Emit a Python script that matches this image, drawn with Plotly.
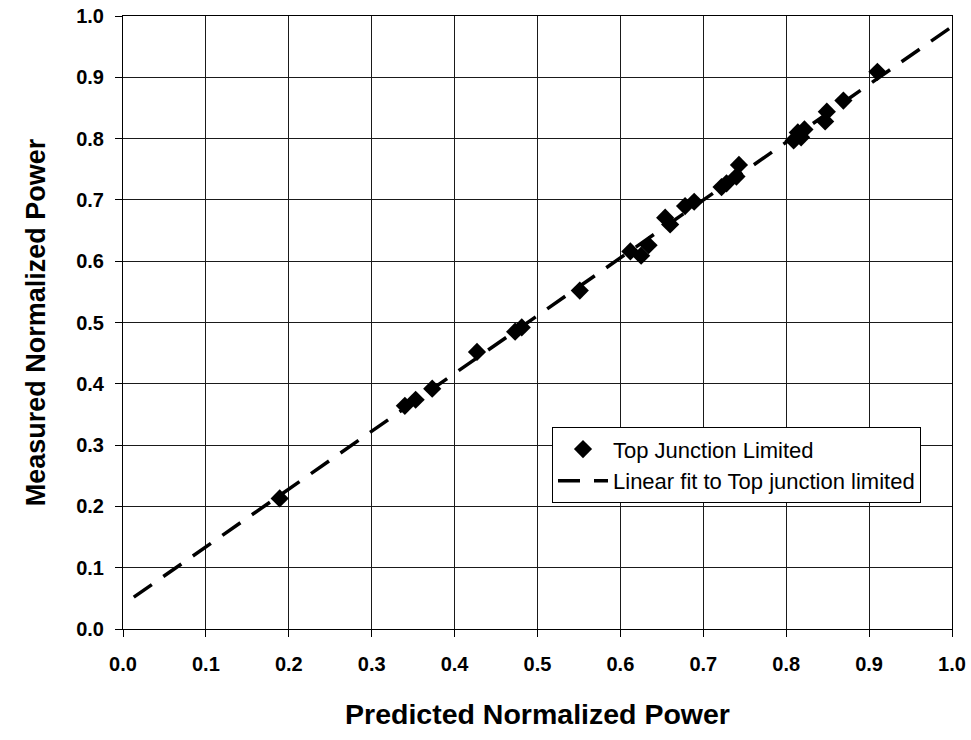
import plotly.graph_objects as go

# Predicted vs measured normalized power (top-junction-limited cells)
predicted = [0.189, 0.340, 0.353, 0.373, 0.427, 0.473, 0.481, 0.551, 0.612,
             0.625, 0.634, 0.654, 0.660, 0.678, 0.689, 0.722, 0.728, 0.740,
             0.743, 0.809, 0.814, 0.818, 0.822, 0.847, 0.849, 0.869, 0.910]
measured = [0.213, 0.364, 0.374, 0.392, 0.452, 0.485, 0.492, 0.552, 0.616,
            0.609, 0.626, 0.671, 0.660, 0.690, 0.697, 0.721, 0.727, 0.738,
            0.757, 0.797, 0.810, 0.802, 0.815, 0.828, 0.844, 0.862, 0.909]

# Linear fit parameters and the span over which the fit line is drawn
fit_slope = 0.943
fit_intercept = 0.0397
fit_span = [0.013, 1.0]

tick_vals = [0.0, 0.1, 0.2, 0.3, 0.4, 0.5, 0.6, 0.7, 0.8, 0.9, 1.0]
tick_text = ["0.0", "0.1", "0.2", "0.3", "0.4", "0.5", "0.6", "0.7", "0.8", "0.9", "1.0"]

fit_y = [fit_intercept + fit_slope * x for x in fit_span]

FONT = "Liberation Sans, Arial, sans-serif"

fig = go.Figure()
fig.add_trace(go.Scatter(
    x=predicted, y=measured, mode="markers", name="Top Junction Limited",
    marker=dict(symbol="diamond", size=14, color="black",
                line=dict(width=0)),
))
fig.add_trace(go.Scatter(
    x=fit_span, y=fit_y, mode="lines", name="Linear fit to Top junction limited",
    line=dict(color="black", width=3.5, dash="22px,14px"),
))

axis_common = dict(
    range=[0, 1], tickvals=tick_vals, ticktext=tick_text,
    showgrid=True, gridcolor="#1a1a1a", gridwidth=1,
    zeroline=False, showline=True, linecolor="black", linewidth=1,
    mirror=True, ticks="outside", tickcolor="black", ticklen=7,
    tickfont=dict(family=FONT, size=20, color="black", weight="bold"),
)

fig.update_layout(
    width=971, height=740,
    margin=dict(l=123, r=19, t=16, b=111, autoexpand=False),
    paper_bgcolor="white", plot_bgcolor="white",
    font=dict(family=FONT, color="black"),
    xaxis=dict(
        **axis_common,
        ticklabelstandoff=10,
        title=dict(text="Predicted Normalized Power", standoff=30,
                   font=dict(family=FONT, size=28.5, color="black", weight="bold")),
    ),
    yaxis=dict(
        **axis_common,
        ticklabelstandoff=7,
        title=dict(text="Measured Normalized Power", standoff=22,
                   font=dict(family=FONT, size=27, color="black", weight="bold")),
    ),
    showlegend=True,
    legend=dict(
        x=0.5175, y=0.329, xanchor="left", yanchor="top",
        bgcolor="white", bordercolor="black", borderwidth=1,
        font=dict(family=FONT, size=22, color="black"),
        itemwidth=50, tracegroupgap=0,
    ),
)

fig.write_html("out.html")
